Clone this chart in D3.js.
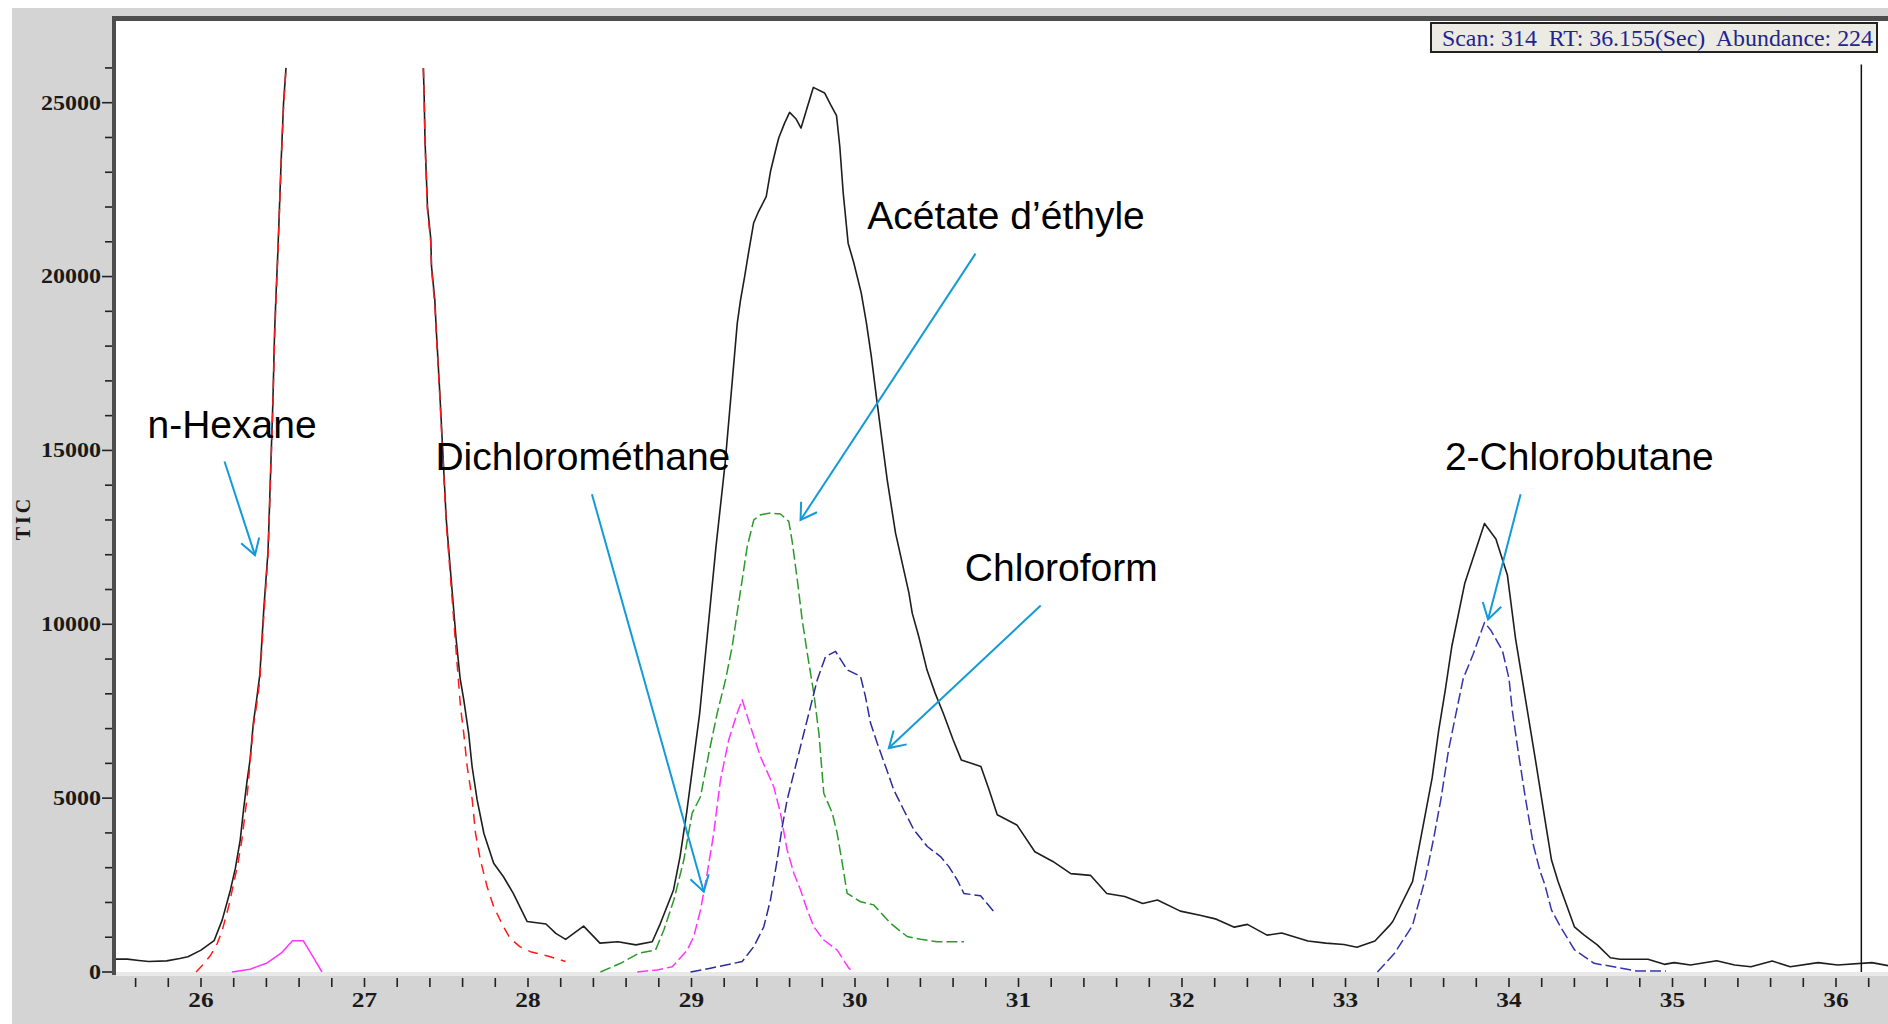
<!DOCTYPE html>
<html>
<head>
<meta charset="utf-8">
<script src="https://cdn.jsdelivr.net/npm/d3@7"></script>
<style>
  body { margin: 0; background: #fff; overflow: hidden; }
</style>
</head>
<body>
<svg id="chart" width="1888" height="1024"></svg>
<script>
// retention time (min), abundance
const tic = [
  [25.47,370],[25.55,370],[25.62,330],[25.68,300],[25.79,320],[25.87,390],[25.92,440],[26.00,630],[26.08,900],
  [26.13,1500],[26.18,2360],[26.21,2980],[26.24,3800],[26.26,4660],[26.28,5430],[26.30,6100],[26.32,7150],
  [26.34,7830],[26.36,8560],[26.385,10500],[26.41,12100],[26.44,16450],[26.45,18400],[26.46,19600],[26.47,20700],
  [26.48,22000],[26.49,23300],[26.505,25000],[26.52,26000],[26.9,null],
  [27.36,26000],[27.365,25180],[27.37,23940],[27.385,22020],[27.405,21110],[27.41,20290],[27.43,19330],[27.44,18380],
  [27.46,16700],[27.50,13020],[27.53,11300],[27.56,9590],[27.585,8440],[27.607,7830],[27.637,6870],[27.658,5910],
  [27.689,4950],[27.73,3990],[27.79,3130],[27.85,2740],[27.91,2260],[27.995,1450],[28.11,1380],[28.17,1110],
  [28.23,940],[28.34,1320],[28.44,830],[28.55,870],[28.66,780],[28.76,870],[28.81,1400],[28.89,2360],[28.93,3320],
  [28.97,4570],[29.01,6000],[29.05,7440],[29.09,9360],[29.15,12240],[29.205,14600],[29.255,17300],[29.28,18660],
  [29.30,19330],[29.325,20000],[29.35,20720],[29.38,21540],[29.41,21870],[29.457,22300],[29.483,23020],[29.52,23740],
  [29.534,23990],[29.57,24420],[29.60,24720],[29.64,24530],[29.67,24270],[29.71,24900],[29.745,25440],[29.814,25280],
  [29.85,24950],[29.887,24630],[29.907,23740],[29.928,22400],[29.958,20960],[29.993,20390],[30.038,19530],[30.07,18660],
  [30.10,17700],[30.133,16460],[30.174,14970],[30.197,14155],[30.248,12620],[30.289,11760],[30.33,10895],[30.35,10320],
  [30.39,9650],[30.44,8690],[30.49,8020],[30.54,7440],[30.60,6680],[30.65,6100],[30.77,5910],[30.82,5240],[30.87,4520],
  [30.99,4230],[31.10,3460],[31.21,3180],[31.32,2830],[31.44,2780],[31.54,2260],[31.65,2170],[31.76,1970],[31.85,2070],
  [31.99,1750],[32.11,1630],[32.21,1520],[32.32,1290],[32.40,1370],[32.52,1060],[32.61,1120],[32.77,890],[32.88,830],
  [32.99,790],[33.07,710],[33.18,890],[33.27,1340],[33.29,1460],[33.41,2600],[33.47,4090],[33.53,5580],[33.57,6950],
  [33.61,8100],[33.65,9360],[33.73,11190],[33.85,12900],[33.92,12450],[33.99,11420],[34.04,9590],[34.10,7870],
  [34.16,6150],[34.23,4090],[34.26,3220],[34.30,2600],[34.40,1300],[34.46,1060],[34.54,780],[34.62,410],[34.68,365],
  [34.85,365],[34.95,220],[35.01,270],[35.11,200],[35.27,325],[35.38,200],[35.48,150],[35.61,316],[35.72,150],
  [35.89,270],[36.01,200],[36.22,270],[36.32,180]
];

const hexane = [
  [25.97,0],[26.02,250],[26.06,490],[26.10,825],[26.13,1200],[26.17,1900],[26.20,2550],[26.225,3100],[26.25,3800],
  [26.28,4950],[26.30,6000],[26.32,7060],[26.345,7830],[26.36,8400],[26.385,10300],[26.41,12000],[26.44,16300],
  [26.45,18200],[26.46,19500],[26.47,20600],[26.48,21900],[26.49,23200],[26.505,24900],[26.52,26000],[26.9,null],
  [27.36,26000],[27.365,25100],[27.37,23900],[27.385,21900],[27.405,21000],[27.41,20200],[27.43,19200],[27.44,18300],
  [27.46,16600],[27.50,12900],[27.53,11100],[27.56,9250],[27.587,7630],[27.607,6870],[27.628,5910],[27.659,4950],
  [27.679,3990],[27.709,3220],[27.75,2450],[27.79,1880],[27.85,1300],[27.89,970],[27.95,730],[28.015,585],
  [28.12,460],[28.23,300]
];

const dcmBump = [
  [26.19,0],[26.30,80],[26.40,250],[26.49,540],[26.56,900],[26.625,900],[26.69,400],[26.74,0]
];

const dcm = [
  [28.668,0],[28.79,60],[28.882,150],[28.974,630],[29.014,1020],[29.055,1780],[29.096,2840],[29.136,3990],
  [29.177,5520],[29.228,6680],[29.279,7440],[29.31,7830],[29.361,7060],[29.422,6190],[29.503,5330],[29.544,4570],
  [29.585,3510],[29.626,2840],[29.667,2360],[29.708,1780],[29.748,1300],[29.809,920],[29.891,630],[29.962,110],
  [29.99,0]
];

const ethylAcetate = [
  [28.443,0],[28.566,250],[28.678,540],[28.78,630],[28.831,1210],[28.892,2070],[28.953,3220],[29.004,4570],
  [29.055,5040],[29.106,6290],[29.157,7440],[29.208,8400],[29.249,9360],[29.279,10320],[29.31,11280],[29.341,12240],
  [29.381,13000],[29.422,13150],[29.483,13200],[29.544,13170],[29.595,12960],[29.616,12380],[29.647,11280],
  [29.677,10130],[29.708,9170],[29.748,8020],[29.779,6870],[29.809,5140],[29.861,4570],[29.891,3990],[29.922,3130],
  [29.952,2260],[30.034,2020],[30.115,1930],[30.217,1400],[30.319,1020],[30.401,940],[30.503,870],[30.666,870]
];

const chloroform = [
  [28.994,0],[29.116,110],[29.31,300],[29.381,730],[29.442,1300],[29.483,2070],[29.524,3220],[29.555,4180],
  [29.585,4950],[29.626,5720],[29.677,6680],[29.728,7630],[29.769,8400],[29.82,9070],[29.881,9220],[29.952,8690],
  [30.034,8500],[30.064,7920],[30.095,7160],[30.136,6580],[30.187,5910],[30.237,5240],[30.298,4660],[30.36,4090],
  [30.442,3610],[30.523,3320],[30.574,3030],[30.625,2650],[30.666,2260],[30.768,2190],[30.849,1740]
];

const chlorobutane = [
  [33.195,0],[33.30,540],[33.41,1340],[33.49,2720],[33.54,3860],[33.585,5010],[33.63,6380],[33.68,7530],
  [33.72,8440],[33.78,9130],[33.85,10050],[33.89,9820],[33.96,9240],[34.00,8440],[34.02,7530],[34.055,6380],
  [34.10,5010],[34.15,3630],[34.19,2900],[34.22,2500],[34.26,1780],[34.315,1300],[34.40,640],[34.52,250],
  [34.64,150],[34.78,30],[34.96,30]
];

const xMajorTicks = [26, 27, 28, 29, 30, 31, 32, 33, 34, 35, 36];
const yMajorTicks = [0, 5000, 10000, 15000, 20000, 25000];
const cursorRT = 36.155;
const cursorText = "Scan: 314  RT: 36.155(Sec)  Abundance: 224";

// label position and arrow (from -> to) in data units
const annotations = [
  { label: "n-Hexane",         at: [25.673, 15370], from: [26.144, 14680], to: [26.330, 11990] },
  { label: "Dichlorométhane",  at: [27.434, 14450], from: [28.391, 13740], to: [29.075, 2310] },
  { label: "Acétate d’éthyle", at: [30.075, 21370], from: [30.737, 20660], to: [29.667, 13000] },
  { label: "Chloroform",       at: [30.672, 11250], from: [31.136, 10540], to: [30.207, 6440] },
  { label: "2-Chlorobutane",   at: [33.608, 14450], from: [34.071, 13740], to: [33.872, 10140] }
];

const series = [
  { data: tic,          color: "#1e1e1e", dash: null,   width: 1.6 },
  { data: hexane,       color: "#ff1a1a", dash: "10,7", width: 1.5 },
  { data: dcmBump,      color: "#ff33ff", dash: null,   width: 1.5 },
  { data: dcm,          color: "#ff33ff", dash: "11,4", width: 1.5 },
  { data: ethylAcetate, color: "#2a9a2a", dash: "11,4", width: 1.5 },
  { data: chloroform,   color: "#2c2c98", dash: "11,4", width: 1.5 },
  { data: chlorobutane, color: "#3434ae", dash: "11,4", width: 1.5 }
];

const W = 1888, H = 1024;
const plot = { left: 116, top: 21, right: 1888, bottom: 972 };
const svg = d3.select("#chart");
const serif = "'Liberation Serif', 'Times New Roman', serif";

const x = d3.scaleLinear().domain([26, 36]).range([201, 1836]);
const y = d3.scaleLinear().domain([0, 25000]).range([972, 102.7]);

// backgrounds
svg.append("rect").attr("x", 12).attr("y", 8).attr("width", W - 12).attr("height", H - 8).attr("fill", "#d4d4d4");
svg.append("rect").attr("x", plot.left).attr("y", plot.top)
  .attr("width", plot.right - plot.left).attr("height", plot.bottom - plot.top).attr("fill", "#fff");
svg.append("rect").attr("x", plot.left).attr("y", plot.bottom)
  .attr("width", plot.right - plot.left).attr("height", 4).attr("fill", "#e9e9e9");

// frame: thick top and left lines
svg.append("rect").attr("x", 112).attr("y", 16).attr("width", W - 112).attr("height", 5).attr("fill", "#4d4d4d");
svg.append("rect").attr("x", 112).attr("y", 16).attr("width", 4).attr("height", plot.bottom - 16 + 3).attr("fill", "#4d4d4d");

// y ticks
const yMinor = d3.range(0, 26001, 1000);
svg.append("g").selectAll("line").data(yMinor).join("line")
  .attr("x1", d => yMajorTicks.includes(d) ? 102 : 105).attr("x2", 112)
  .attr("y1", d => y(d)).attr("y2", d => y(d))
  .attr("stroke", "#222").attr("stroke-width", 1.6);
svg.append("g").selectAll("text").data(yMajorTicks).join("text")
  .attr("transform", d => `translate(101,${y(d)}) scale(1.2,1)`)
  .attr("dy", "0.34em")
  .attr("text-anchor", "end")
  .attr("font-family", serif)
  .attr("font-weight", "bold").attr("font-size", 20).attr("fill", "#1a1a1a")
  .text(d => d);

// x ticks
const xMinor = d3.range(25.6, 36.31, 0.2).map(d => +d.toFixed(1));
svg.append("g").selectAll("line").data(xMinor).join("line")
  .attr("x1", d => x(d)).attr("x2", d => x(d))
  .attr("y1", 978).attr("y2", 987)
  .attr("stroke", "#222").attr("stroke-width", 1.6);
svg.append("g").selectAll("text").data(xMajorTicks).join("text")
  .attr("transform", d => `translate(${x(d)},1007) scale(1.15,1)`)
  .attr("text-anchor", "middle")
  .attr("font-family", serif)
  .attr("font-weight", "bold").attr("font-size", 22).attr("fill", "#1a1a1a")
  .text(d => d);

// axis title
svg.append("text")
  .attr("transform", "translate(30,518) rotate(-90)")
  .attr("text-anchor", "middle")
  .attr("font-family", serif)
  .attr("font-weight", "bold").attr("font-size", 20).attr("letter-spacing", 3)
  .attr("fill", "#1a1a1a")
  .text("TIC");

// traces
svg.append("clipPath").attr("id", "plotClip").append("rect")
  .attr("x", plot.left).attr("y", plot.top).attr("width", plot.right - plot.left).attr("height", plot.bottom - plot.top + 1);

const line = d3.line()
  .defined(d => d[1] !== null)
  .x(d => x(d[0])).y(d => y(d[1]));

const traces = svg.append("g").attr("clip-path", "url(#plotClip)");
traces.selectAll("path").data(series).join("path")
  .attr("d", d => line(d.data))
  .attr("fill", "none")
  .attr("stroke", d => d.color)
  .attr("stroke-width", d => d.width)
  .attr("stroke-dasharray", d => d.dash)
  .attr("stroke-linejoin", "round");

// cursor
svg.append("line")
  .attr("x1", x(cursorRT)).attr("x2", x(cursorRT))
  .attr("y1", y(26100)).attr("y2", y(0))
  .attr("stroke", "#111").attr("stroke-width", 1.5);

// cursor readout box
const box = svg.append("g");
box.append("rect").attr("x", 1431).attr("y", 23).attr("width", 446).attr("height", 29)
  .attr("fill", "#ebebe4").attr("stroke", "#222").attr("stroke-width", 2);
box.append("text").attr("x", 1442).attr("y", 45.5)
  .attr("font-family", serif)
  .attr("font-size", 24).attr("fill", "#24248f")
  .style("white-space", "pre")
  .attr("textLength", 431).attr("lengthAdjust", "spacingAndGlyphs")
  .text(cursorText);

// annotations
const arrowColor = "#139ad8";
svg.append("defs").append("marker")
  .attr("id", "openArrow")
  .attr("markerUnits", "userSpaceOnUse")
  .attr("viewBox", "-2 -12 20 24")
  .attr("refX", 15.5).attr("refY", 0)
  .attr("markerWidth", 20).attr("markerHeight", 24)
  .attr("orient", "auto")
  .append("path")
    .attr("d", "M0,-9.5L15.5,0L0,9.5")
    .attr("fill", "none")
    .attr("stroke", arrowColor)
    .attr("stroke-width", 2);

const ann = svg.append("g");
ann.selectAll("line").data(annotations).join("line")
  .attr("x1", d => x(d.from[0])).attr("y1", d => y(d.from[1]))
  .attr("x2", d => x(d.to[0])).attr("y2", d => y(d.to[1]))
  .attr("stroke", arrowColor).attr("stroke-width", 2)
  .attr("marker-end", "url(#openArrow)");
ann.selectAll("text").data(annotations).join("text")
  .attr("x", d => x(d.at[0])).attr("y", d => y(d.at[1]))
  .attr("font-family", "'Liberation Sans', Arial, sans-serif")
  .attr("font-size", 39).attr("fill", "#000")
  .text(d => d.label);
</script>
</body>
</html>
